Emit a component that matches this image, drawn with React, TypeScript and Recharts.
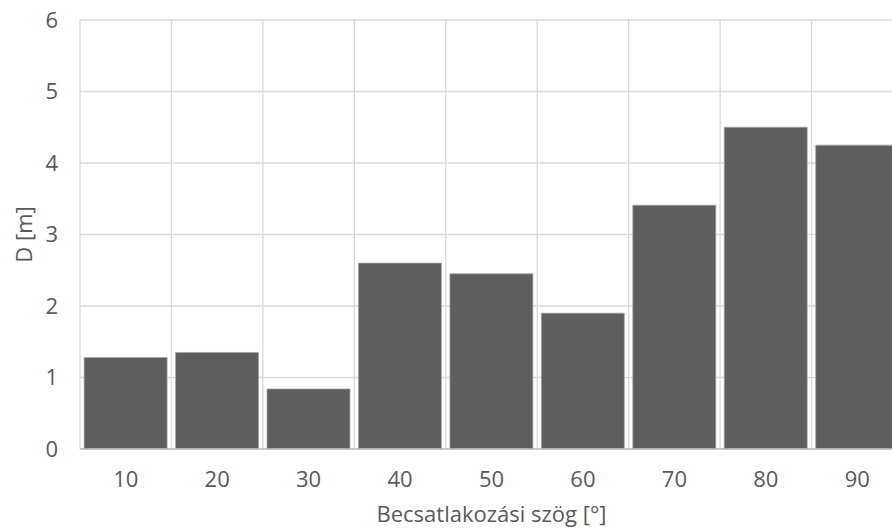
import React from "react";
import {
  BarChart,
  Bar,
  XAxis,
  YAxis,
  CartesianGrid,
} from "recharts";

const angles = ["10", "20", "30", "40", "50", "60", "70", "80", "90"];
const distances = [1.28, 1.35, 0.84, 2.6, 2.45, 1.9, 3.41, 4.5, 4.25];
const yTicks = [0, 1, 2, 3, 4, 5, 6];

const data = angles.map((a, i) => ({ angle: a, d: distances[i] }));

const FONT = "'Open Sans', sans-serif";
const TEXT = "#595959";

// rotated y axis title, centred on the plot height
const YTitle = (props: any) => {
  const vb = props.viewBox || {};
  const x = 32;
  const y = vb.y + vb.height / 2;
  return (
    <text
      x={x}
      y={y}
      transform={`rotate(-90 ${x} ${y})`}
      textAnchor="middle"
      fill={TEXT}
      fontSize={22}
      fontFamily={FONT}
    >
      D [m]
    </text>
  );
};

export default function App() {
  return (
    <div
      style={{
        position: "absolute",
        left: 0,
        top: 0,
        width: 892,
        height: 532,
        overflow: "hidden",
        background: "#fff",
      }}
    >
      <BarChart
        width={903}
        height={532}
        data={data}
        margin={{ top: 20, right: 0, left: 0, bottom: 0 }}
        barCategoryGap="4.5%"
        style={{ fontFamily: FONT }}
      >
        <CartesianGrid
          stroke="#d9d9d9"
          strokeWidth={1.3}
          verticalCoordinatesGenerator={({ offset }: any) =>
            Array.from(
              { length: angles.length + 1 },
              (_, i) => offset.left + (i * offset.width) / angles.length
            )
          }
        />
        <XAxis
          dataKey="angle"
          height={83}
          tickLine={false}
          tickSize={0}
          tickMargin={22}
          axisLine={{ stroke: "#bfbfbf", strokeWidth: 1.3 }}
          tick={{ fill: TEXT, fontSize: 22, fontFamily: FONT }}
          label={{
            value: "Becsatlakozási szög [°]",
            position: "insideBottom",
            offset: 10,
            fill: TEXT,
            fontSize: 22,
            fontFamily: FONT,
          }}
        />
        <YAxis
          width={80}
          domain={[0, 6]}
          ticks={yTicks}
          interval={0}
          tickLine={false}
          tickSize={0}
          tickMargin={22}
          axisLine={false}
          tick={{ fill: TEXT, fontSize: 22, fontFamily: FONT }}
          label={{ content: YTitle }}
        />
        <Bar
          dataKey="d"
          fill="#5e5e5e"
          stroke="#a6a6a6"
          strokeWidth={0.75}
          isAnimationActive={false}
        />
      </BarChart>
    </div>
  );
}
